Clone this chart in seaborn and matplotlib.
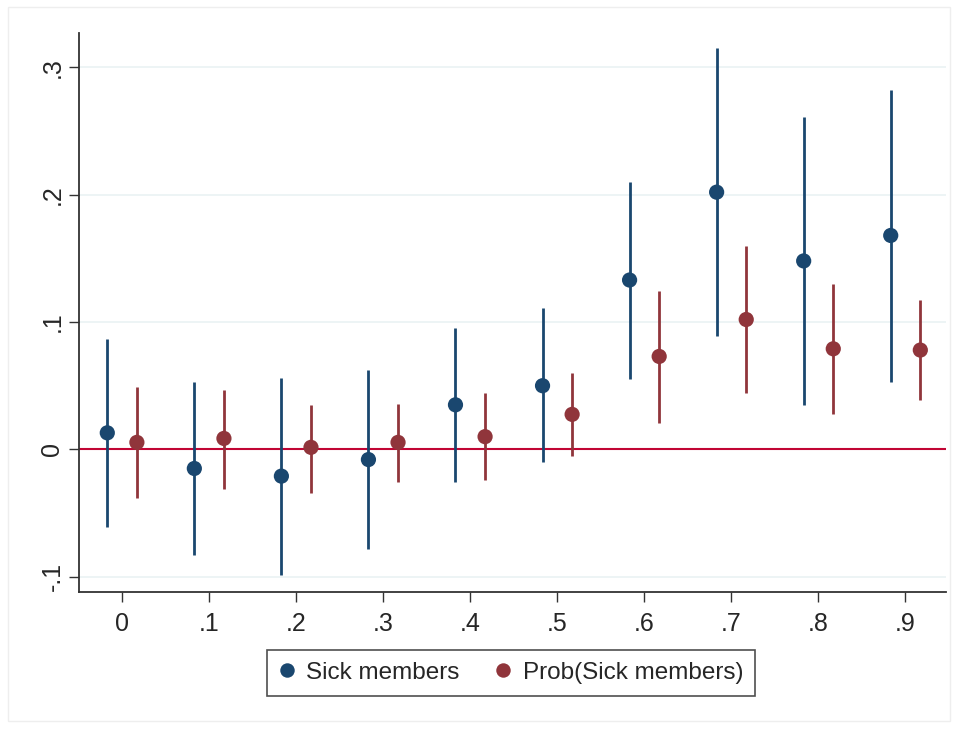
import numpy as np
import pandas as pd
import seaborn as sns
import matplotlib.pyplot as plt
from matplotlib.patches import Rectangle

# quantile positions and estimates
quantiles = [0.0, 0.1, 0.2, 0.3, 0.4, 0.5, 0.6, 0.7, 0.8, 0.9]
tick_labels = ["0", ".1", ".2", ".3", ".4", ".5", ".6", ".7", ".8", ".9"]

sick_coef = [0.013, -0.015, -0.021, -0.008, 0.035, 0.050, 0.133, 0.202, 0.148, 0.168]
sick_lo = [-0.061, -0.083, -0.099, -0.078, -0.026, -0.010, 0.055, 0.089, 0.035, 0.053]
sick_hi = [0.087, 0.053, 0.056, 0.062, 0.095, 0.111, 0.210, 0.315, 0.261, 0.282]

prob_coef = [0.0055, 0.0086, 0.0016, 0.0055, 0.010, 0.0275, 0.073, 0.102, 0.079, 0.078]
prob_lo = [-0.038, -0.031, -0.034, -0.026, -0.024, -0.0055, 0.021, 0.044, 0.0275, 0.039]
prob_hi = [0.049, 0.047, 0.035, 0.036, 0.044, 0.060, 0.124, 0.160, 0.130, 0.117]

series_names = ["Sick members", "Prob(Sick members)"]
colors = ["#1a476f", "#90353b"]
offsets = [-0.0165, 0.0175]

rows = []
for name, off, coef, lo, hi in zip(series_names, offsets,
                                   [sick_coef, prob_coef],
                                   [sick_lo, prob_lo],
                                   [sick_hi, prob_hi]):
    for q, c, l, h in zip(quantiles, coef, lo, hi):
        rows.append({"x": q + off, "coef": c, "lo": l, "hi": h, "series": name})
df = pd.DataFrame(rows)

sns.set_style("white")
plt.rcParams['font.family'] = ['Liberation Sans', 'DejaVu Sans']

fig = plt.figure(figsize=(9.58, 7.29), dpi=100)
ax = fig.add_axes([79 / 958, 1 - 592 / 729, (946 - 79) / 958, (592 - 33) / 729])

# light grid lines like stata
for yv in [-0.1, 0.1, 0.2, 0.3]:
    ax.axhline(yv, color="#eaf2f3", lw=1.2, zorder=0)
ax.axhline(0, color="#c10534", lw=1.5, zorder=1)

for name, col in zip(series_names, colors):
    sub = df[df["series"] == name]
    ax.vlines(sub["x"], sub["lo"], sub["hi"], color=col, lw=2, zorder=2)

sns.scatterplot(data=df, x="x", y="coef", hue="series", palette=colors,
                s=120, edgecolor="none", zorder=3, ax=ax)

ax.set_xlim(-0.049, 0.947)
ax.set_ylim(-0.112, 0.327)
ax.set_xticks(quantiles)
ax.set_xticklabels(tick_labels)
ax.set_yticks([-0.1, 0, 0.1, 0.2, 0.3])
ax.set_yticklabels(["-.1", "0", ".1", ".2", ".3"], rotation=90, va="center")
ax.tick_params(axis="both", length=7.5, width=1, color="#333333", labelsize=18, direction="out",
               left=True, bottom=True)
ax.tick_params(axis="x", pad=7)
ax.tick_params(axis="y", pad=3)
ax.set_xlabel("")
ax.set_ylabel("")
for s in ["top", "right"]:
    ax.spines[s].set_visible(False)
for s in ["left", "bottom"]:
    ax.spines[s].set_color("#333333")
    ax.spines[s].set_linewidth(1.3)

handles, labels = ax.get_legend_handles_labels()
leg = ax.legend(handles, labels, loc="upper center", bbox_to_anchor=(0.4985, -0.103),
                ncol=2, frameon=True, fancybox=False, fontsize=17.5, handletextpad=0.5,
                handlelength=0.6, columnspacing=1.5, borderpad=0.5, borderaxespad=0,
                markerscale=0.95)
leg.get_frame().set_edgecolor("#222222")
leg.get_frame().set_linewidth(1.2)

# faint outer border of the graph region
fig.patches.append(Rectangle((8 / 958, 1 - 721 / 729), 942 / 958, 714 / 729,
                             transform=fig.transFigure, fill=False,
                             edgecolor="#eeeeee", lw=1))

fig.savefig("out.png", dpi=100)
